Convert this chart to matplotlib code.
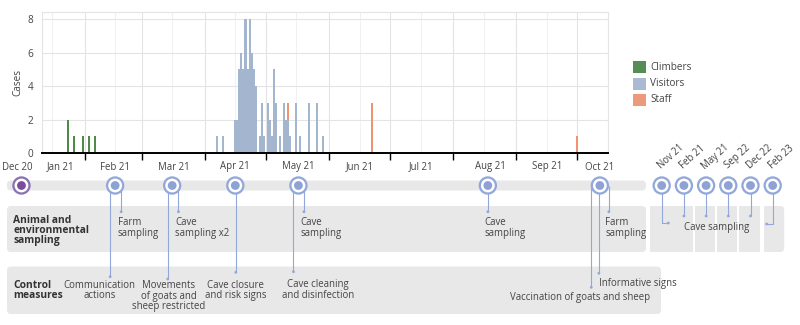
import numpy as np
import pandas as pd
import matplotlib
matplotlib.use("Agg")
import matplotlib.pyplot as plt
import matplotlib.dates as mdates
from matplotlib.patches import Circle, FancyBboxPatch, Rectangle

plt.rcParams['font.family'] = ['Open Sans', 'DejaVu Sans']

# ---------------- data ----------------
series_names = ["Climbers", "Visitors", "Staff"]
series_colors = ["#4f8a4b", "#a4b6cf", "#ef9371"]

climber_dates = ["2021-01-24", "2021-01-27", "2021-01-31", "2021-02-03", "2021-02-06"]
climber_cases = [2, 1, 1, 1, 1]

visitor_dates = ["2021-04-07", "2021-04-10", "2021-04-16", "2021-04-17", "2021-04-18",
                 "2021-04-19", "2021-04-20", "2021-04-21", "2021-04-22", "2021-04-23",
                 "2021-04-24", "2021-04-25", "2021-04-26", "2021-04-28", "2021-04-29",
                 "2021-04-30", "2021-05-02", "2021-05-03", "2021-05-04", "2021-05-05",
                 "2021-05-06", "2021-05-08", "2021-05-10", "2021-05-11", "2021-05-12",
                 "2021-05-13", "2021-05-16", "2021-05-18", "2021-05-22", "2021-05-26",
                 "2021-05-29"]
visitor_cases = [1, 1, 2, 2, 5,
                 6, 5, 8, 5, 8,
                 6, 5, 4, 1, 3,
                 1, 3, 2, 1, 5,
                 3, 1, 3, 2, 2,
                 1, 3, 1, 3, 3,
                 1]

staff_dates = ["2021-05-12", "2021-06-22", "2021-10-01"]
staff_cases = [1, 3, 1]

yticks = [0, 2, 4, 6, 8]
month_ticks = ["2021-02-01", "2021-03-01", "2021-04-01", "2021-05-01", "2021-06-01",
               "2021-07-01", "2021-08-01", "2021-09-01", "2021-10-01"]
x_start, x_end = "2021-01-11 02:00", "2021-10-13 14:00"

# timeline
month_labels = ["Dec 20", "Jan 21", "Feb 21", "Mar 21", "Apr 21", "May 21",
                "Jun 21", "Jul 21", "Aug 21", "Sep 21", "Oct 21"]
month_label_dates = ["2020-12-30", "2021-01-20", "2021-02-16", "2021-03-17", "2021-04-16",
                     "2021-05-17", "2021-06-16", "2021-07-16", "2021-08-19", "2021-09-16",
                     "2021-10-12"]
event_dates = ["2021-01-01", "2021-02-16", "2021-03-16", "2021-04-16", "2021-05-17",
               "2021-08-18", "2021-10-12"]
later_labels = ["Nov 21", "Feb 21", "May 21", "Sep 22", "Dec 22", "Feb 23"]

sampling_texts = {1: "Farm\nsampling", 2: "Cave\nsampling x2", 4: "Cave\nsampling",
                  5: "Cave\nsampling", 6: "Farm\nsampling"}
control_texts = {1: "Communication\nactions", 2: "Movements\nof goats and\nsheep restricted",
                 3: "Cave closure\nand risk signs", 4: "Cave cleaning\nand disinfection"}
control_oct = ["Informative signs", "Vaccination of goats and sheep"]
later_text = "Cave sampling"

# ---------------- layout ----------------
W, H = 800, 325
fig = plt.figure(figsize=(W / 100, H / 100), dpi=100)
fig.patch.set_facecolor("white")

ov = fig.add_axes([0, 0, 1, 1])
ov.set_xlim(0, W)
ov.set_ylim(H, 0)
ov.axis("off")

ax_l, ax_r, ax_b, ax_t = 42, 608, 153, 11.7
ax = fig.add_axes([ax_l / W, 1 - ax_b / H, (ax_r - ax_l) / W, (ax_b - ax_t) / H])
ax.set_facecolor("none")

# ---------------- bar chart ----------------
days = pd.date_range("2021-01-01", "2021-10-31", freq="D")
df = pd.DataFrame(0, index=days, columns=series_names)
for d, v in zip(climber_dates, climber_cases):
    df.loc[pd.Timestamp(d), "Climbers"] += v
for d, v in zip(visitor_dates, visitor_cases):
    df.loc[pd.Timestamp(d), "Visitors"] += v
for d, v in zip(staff_dates, staff_cases):
    df.loc[pd.Timestamp(d), "Staff"] += v

bottom = np.zeros(len(df))
for name, col in zip(series_names, series_colors):
    vals = df[name].values.astype(float)
    mask = vals > 0
    ax.bar(df.index[mask], vals[mask], bottom=bottom[mask], width=1.0,
           color=col, linewidth=0, zorder=3)
    bottom += vals

ax.set_xlim(pd.Timestamp(x_start), pd.Timestamp(x_end))
ax.set_ylim(0, 8.44)
ax.set_yticks(yticks)
ax.set_yticklabels([str(v) for v in yticks])
ax.set_xticks([pd.Timestamp(m) for m in month_ticks])
ax.set_xticklabels([])
minor = [pd.Timestamp(m) + pd.Timedelta(days=15) for m in ["2021-01-01"] + month_ticks]
ax.set_xticks(minor, minor=True)
ax.tick_params(axis="x", which="major", direction="out", length=5, width=1, color="black")
ax.tick_params(axis="x", which="minor", length=0)
ax.tick_params(axis="y", length=0, pad=6, labelsize=7.2, labelcolor="#444444")
ax.grid(True, which="major", color="#e4e4e4", linewidth=0.8, zorder=0)
ax.grid(True, which="minor", axis="x", color="#f1f1f1", linewidth=0.7, zorder=0)
for s in ["top", "right", "left"]:
    ax.spines[s].set_color("#e4e4e4")
    ax.spines[s].set_linewidth(0.8)
ax.spines["bottom"].set_color("black")
ax.spines["bottom"].set_linewidth(1.4)
ax.spines["bottom"].set_zorder(5)
ax.set_ylabel("Cases", fontsize=7.2, color="#444444", labelpad=3)

# legend (manual, from the series lists)
leg_y = [67, 84, 100]
leg_colors = ["#558d54", "#a9bad2", "#ec9a7b"]
for name, c, yc in zip(series_names, leg_colors, leg_y):
    ov.add_patch(Rectangle((633, yc - 6), 13, 12, facecolor=c, edgecolor="none"))
    ov.text(650.5, yc, name, fontsize=7.2, color="#444444", va="center", ha="left")

# ---------------- timeline ----------------
def xpx(date):
    return ax.transData.transform([[mdates.date2num(pd.Timestamp(date)), 0]])[0][0]

TXT = "#444444"
HDR = "#333333"
BOX = "#e8e8e8"
RING = "#93a8da"
DOT = "#8ea2d4"
LINE = "#93a8da"
FS = 6.9
HFS = 7.4
LS = 0.95
cy = 185.5

# month labels
for lab, d in zip(month_labels, month_label_dates):
    ov.text(xpx(d), 167, lab, fontsize=FS, color=TXT, ha="center", va="center")

# band
ov.add_patch(FancyBboxPatch((7, 180.5), 639, 10, boxstyle="round,pad=0,rounding_size=4",
                            facecolor=BOX, edgecolor="none", zorder=1))
# sampling box
ov.add_patch(FancyBboxPatch((7, 206), 639, 46, boxstyle="round,pad=0,rounding_size=4",
                            facecolor=BOX, edgecolor="none", zorder=1))
# control box
ov.add_patch(FancyBboxPatch((7, 266.5), 654, 47.5, boxstyle="round,pad=0,rounding_size=4",
                            facecolor=BOX, edgecolor="none", zorder=1))

ov.text(13, 230.5, "Animal and\nenvironmental\nsampling", fontsize=HFS, fontweight="bold",
        color=HDR, ha="left", va="center", linespacing=0.9, zorder=4)
ov.text(13, 290.3, "Control\nmeasures", fontsize=HFS, fontweight="bold",
        color=HDR, ha="left", va="center", linespacing=0.9, zorder=4)

ex = [xpx(d) for d in event_dates]


def vline(x, y0, y1, dot=True):
    ov.plot([x, x], [y0, y1], color=LINE, lw=0.8, zorder=2, solid_capstyle="butt")
    if dot:
        ov.add_patch(Circle((x, y1), 1.4, facecolor=LINE, edgecolor="none", zorder=2))


# sampling connectors
samp_off = {1: 6, 2: 6.3, 4: 5.5, 5: 0, 6: 9}
for i, t in sampling_texts.items():
    lx = ex[i] + samp_off[i]
    vline(lx, cy, 211.7)
    ov.text(lx - 3.5, 228, t, fontsize=FS, color=TXT, ha="left", va="center",
            linespacing=LS, zorder=4)

# control connectors
ctrl_off = {1: -5, 2: -4.4, 3: 0.5, 4: -5}
ctrl_end = {1: 276.7, 2: 279, 3: 272.3, 4: 271.7}
ctrl_txt_dx = {1: -10.7, 2: 0.7, 3: 0, 4: 24.8}
for i, t in control_texts.items():
    lx = ex[i] + ctrl_off[i]
    vline(lx, cy, ctrl_end[i])
    nlines = t.count("\n") + 1
    ty = 290.3 if nlines == 2 else 296.2
    ov.text(lx + ctrl_txt_dx[i], ty, t, fontsize=FS, color=TXT, ha="center", va="center",
            linespacing=LS, zorder=4)

# October control measures
lx_info = ex[6] - 1
lx_vacc = ex[6] - 8.6
vline(lx_info, cy, 273.3)
vline(lx_vacc, cy, 287.3)
ov.text(lx_info, 283.3, control_oct[0], fontsize=FS, color=TXT, ha="left", va="center", zorder=4)
ov.text(lx_vacc - 11, 297.5, control_oct[1], fontsize=FS, color=TXT, ha="center",
        va="center", zorder=4)

# circles on main timeline
for i, x in enumerate(ex):
    ring, dot = (RING, DOT) if i > 0 else ("#8a72b3", "#7b4c9b")
    ov.add_patch(Circle((x, cy), 9.2, facecolor=ring, edgecolor="none", zorder=3))
    ov.add_patch(Circle((x, cy), 6.9, facecolor="white", edgecolor="none", zorder=3))
    ov.add_patch(Circle((x, cy), 4.4, facecolor=dot, edgecolor="none", zorder=3))

# later events (discrete)
lx0, dx = 661.7, 22.2
later_x = [lx0 + k * dx for k in range(len(later_labels))]
for k, (x, lab) in enumerate(zip(later_x, later_labels)):
    last = k == len(later_labels) - 1
    if last:
        ov.add_patch(FancyBboxPatch((x - 8.5, 206), 20, 46,
                                    boxstyle="round,pad=0,rounding_size=4",
                                    facecolor=BOX, edgecolor="none", zorder=1))
        ov.add_patch(Rectangle((x - 8.5, 206), 8, 46, facecolor=BOX, edgecolor="none", zorder=1))
    else:
        ov.add_patch(Rectangle((x - 11.5, 206), 20.5 if k else 22, 46,
                               facecolor=BOX, edgecolor="none", zorder=1))
    ov.text(x + 9, 157, lab, fontsize=FS, color=TXT, ha="center", va="center",
            rotation=42, rotation_mode="anchor", zorder=4)
    if k == 0:
        ov.plot([x, x, x + 6.6], [cy, 223, 223], color=LINE, lw=0.8, zorder=2)
        ov.add_patch(Circle((x + 6.6, 223), 1.4, facecolor=LINE, edgecolor="none", zorder=2))
    elif last:
        ov.plot([x, x, x - 6], [cy, 224, 224], color=LINE, lw=0.8, zorder=2)
        ov.add_patch(Circle((x - 6, 224), 1.4, facecolor=LINE, edgecolor="none", zorder=2))
    else:
        vline(x, cy, 216)
    ov.add_patch(Circle((x, cy), 9.2, facecolor=RING, edgecolor="none", zorder=3))
    ov.add_patch(Circle((x, cy), 6.9, facecolor="white", edgecolor="none", zorder=3))
    ov.add_patch(Circle((x, cy), 4.4, facecolor=DOT, edgecolor="none", zorder=3))

ov.text(717, 227.7, later_text, fontsize=FS, color=TXT, ha="center", va="center", zorder=4)

fig.savefig("out.png", dpi=100, facecolor="white")
